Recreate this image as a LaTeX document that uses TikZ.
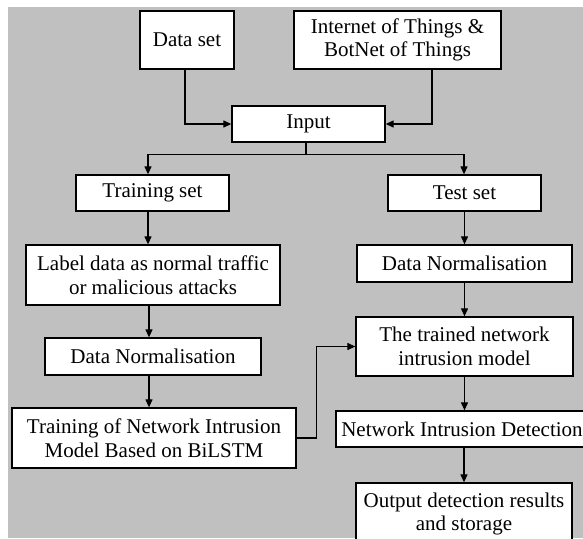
\documentclass[tikz,border=0pt]{standalone}
\usepackage{fontspec}
\setmainfont{Liberation Serif}
\usetikzlibrary{arrows.meta,calc}
\definecolor{bggray}{RGB}{192,192,192}
\begin{document}
\begin{tikzpicture}[x=1pt,y=1pt,
  box/.style={draw=black,fill=white,line width=1.3pt,inner sep=0pt,align=center,
    font=\fontsize{21}{23.5}\selectfont},
  arr/.style={line width=1.2pt,-{Triangle[length=8pt,width=7pt]}},
  ln/.style={line width=1.2pt}]
\useasboundingbox (0,0) rectangle (583,-538);
\clip (0,0) rectangle (583,-538);
\fill[white] (0,0) rectangle (583,-538);
\fill[bggray] (8,-7) rectangle (583,-538);
% nodes
\node[box,minimum width=94pt,minimum height=58pt] (ds) at (187,-40) {Data set};
\node[box,minimum width=207pt,minimum height=58pt] (iot) at (397.5,-40) {Internet of Things \&\\BotNet of Things};
\node[box,minimum width=153pt,minimum height=36pt] (inp) at (308.5,-124) {Input};
\node[box,minimum width=153pt,minimum height=36pt] (tr) at (152.5,-193) {Training set};
\node[box,minimum width=153pt,minimum height=36pt] (te) at (464.5,-193) {Test set};
\node[box,minimum width=254pt,minimum height=60pt] (lab) at (153,-275) {Label data as normal traffic\\or malicious attacks};
\node[box,minimum width=215pt,minimum height=37pt] (dnr) at (464.5,-263.5) {Data Normalisation};
\node[box,minimum width=217pt,minimum height=59pt] (tm) at (464.5,-346.5) {The trained network\\intrusion model};
\node[box,minimum width=216pt,minimum height=37pt] (dnl) at (153,-356.5) {Data Normalisation};
\node[box,minimum width=284pt,minimum height=60pt] (trn) at (154,-438) {Training of Network Intrusion\\Model Based on BiLSTM};
\node[box,minimum width=252pt,minimum height=36pt] (nid) at (462,-429) {Network Intrusion Detection};
\node[box,minimum width=216pt,minimum height=62pt] (out) at (464,-514) {Output detection results\\and storage};
% connectors
\draw[arr] ([xshift=-2pt]ds.south) |- (inp.west);
\draw[arr] ([xshift=34.5pt]iot.south) |- (inp.east);
\coordinate (br) at ($(inp.south)+(-2.5pt,-12pt)$);
\draw[ln] ([xshift=-2.5pt]inp.south) -- (br);
\draw[arr] (br) -| ([xshift=-4.5pt]tr.north);
\draw[arr] (br) -| ([xshift=-0.5pt]te.north);
\draw[arr] ([xshift=-4.5pt]tr.south) -- ([xshift=-4.5pt]tr.south |- lab.north);
\draw[arr] ([xshift=-4pt]lab.south) -- ([xshift=-4pt]lab.south |- dnl.north);
\draw[arr] ([xshift=-4pt]dnl.south) -- ([xshift=-4pt]dnl.south |- trn.north);
\draw[arr] (trn.east) -- ++(20pt,0) |- (tm.west);
\draw[arr] (te.south) -- (dnr.north);
\draw[arr] (dnr.south) -- (tm.north);
\draw[arr] (tm.south) -- (tm.south |- nid.north);
\draw[arr] (nid.south -| out.north) -- (out.north);
\end{tikzpicture}
\end{document}
